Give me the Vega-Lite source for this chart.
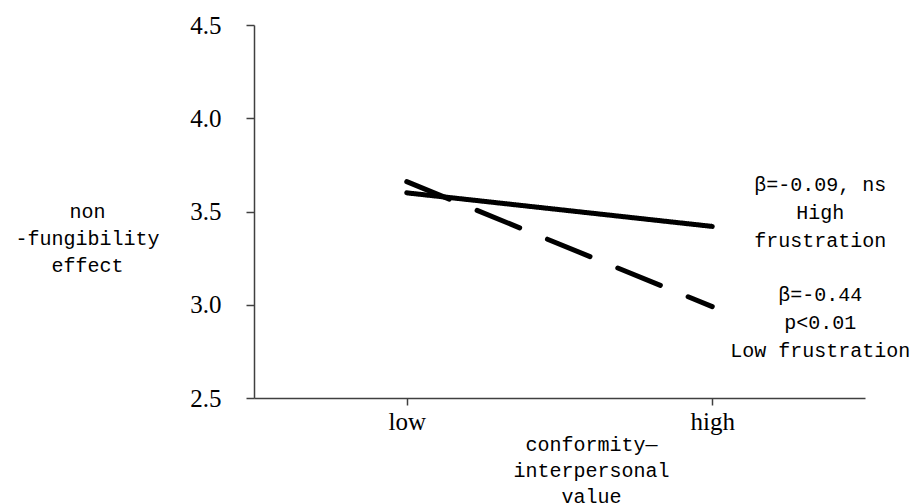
{
  "$schema": "https://vega.github.io/schema/vega-lite/v6.json",
  "width": 611,
  "height": 373,
  "autosize": "none",
  "padding": {"left": 254, "top": 25, "right": 57, "bottom": 106},
  "background": "white",
  "config": {"view": {"stroke": null}},
  "datasets": {
    "lines": [
      {"conformity": "low", "effect": 3.60, "frustration": "High frustration"},
      {"conformity": "high", "effect": 3.42, "frustration": "High frustration"},
      {"conformity": "low", "effect": 3.66, "frustration": "Low frustration"},
      {"conformity": "high", "effect": 2.99, "frustration": "Low frustration"}
    ],
    "notes": [
      {"conformity": "high", "effect": 3.642, "label": "β=-0.09, ns\nHigh\nfrustration"},
      {"conformity": "high", "effect": 3.052, "label": "β=-0.44\np<0.01\nLow frustration"}
    ]
  },
  "encoding": {
    "x": {
      "field": "conformity",
      "type": "ordinal",
      "scale": {"type": "point", "padding": 0.5, "domain": ["low", "high"]},
      "axis": {
        "labelAngle": 0,
        "labelFont": "Liberation Serif",
        "labelFontSize": 25,
        "labelColor": "black",
        "labelPadding": 4,
        "tickSize": 7,
        "tickColor": "#404040",
        "tickWidth": 1.5,
        "domainColor": "#404040",
        "domainWidth": 1.5,
        "grid": false,
        "title": ["conformity—", "interpersonal", "value"],
        "titleFont": "Liberation Mono",
        "titleFontSize": 20,
        "titleFontWeight": "normal",
        "titleColor": "black",
        "titleAlign": "center",
        "titleBaseline": "middle",
        "titleLineHeight": 26,
        "titleX": 337,
        "titleY": 46
      }
    },
    "y": {
      "field": "effect",
      "type": "quantitative",
      "scale": {"domain": [2.5, 4.5], "nice": false, "zero": false},
      "axis": {
        "values": [2.5, 3.0, 3.5, 4.0, 4.5],
        "format": ".1f",
        "labelFont": "Liberation Serif",
        "labelFontSize": 25,
        "labelColor": "black",
        "labelPadding": 25,
        "tickSize": 8,
        "tickColor": "#404040",
        "tickWidth": 1.5,
        "domainColor": "#404040",
        "domainWidth": 1.5,
        "grid": false,
        "title": ["non", "-fungibility", "effect"],
        "titleFont": "Liberation Mono",
        "titleFontSize": 20,
        "titleFontWeight": "normal",
        "titleColor": "black",
        "titleAngle": 0,
        "titleAlign": "center",
        "titleBaseline": "middle",
        "titleLineHeight": 27,
        "titleX": -167,
        "titleY": 186
      }
    }
  },
  "layer": [
    {
      "data": {"name": "lines"},
      "mark": {"type": "line", "color": "black", "strokeWidth": 5, "strokeCap": "round"},
      "encoding": {
        "strokeDash": {
          "field": "frustration",
          "type": "nominal",
          "scale": {"domain": ["High frustration", "Low frustration"], "range": [[1, 0], [46, 30]]},
          "legend": null
        }
      }
    },
    {
      "data": {"name": "notes"},
      "mark": {
        "type": "text",
        "font": "Liberation Mono",
        "fontSize": 20,
        "color": "black",
        "align": "center",
        "baseline": "middle",
        "lineBreak": "\n",
        "lineHeight": 28,
        "dx": 108
      },
      "encoding": {"text": {"field": "label"}}
    }
  ]
}
